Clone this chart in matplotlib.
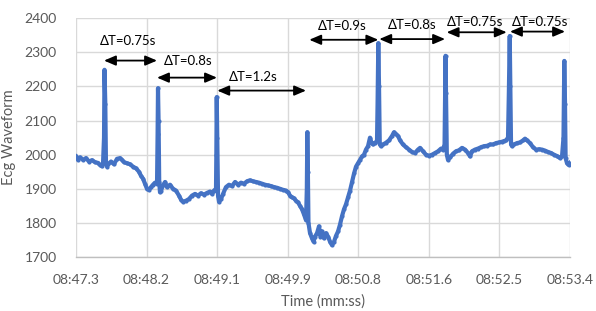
import matplotlib
matplotlib.use("Agg")
import matplotlib.pyplot as plt
import numpy as np

# time in seconds after 08:47.33, ECG value
time_s = [0.000, 0.024, 0.049, 0.086, 0.122, 0.159, 0.196, 0.233, 0.269, 0.294, 0.318, 0.331,
          0.343, 0.349, 0.359, 0.367, 0.380,
          0.392, 0.429, 0.465, 0.502, 0.539, 0.563, 0.588, 0.624, 0.661, 0.698, 0.735, 0.771,
          0.796, 0.820, 0.845, 0.869, 0.894, 0.918, 0.943, 0.967, 0.992,
          0.999, 1.004, 1.011, 1.019, 1.028,
          1.041, 1.065, 1.090, 1.114, 1.151, 1.188, 1.224, 1.261, 1.286, 1.310, 1.347, 1.383,
          1.420, 1.457, 1.494, 1.530, 1.567, 1.604, 1.641, 1.665, 1.690, 1.714,
          1.718, 1.723, 1.730, 1.739, 1.751, 1.775,
          1.800, 1.836, 1.873, 1.910, 1.947, 1.983, 2.020, 2.057, 2.094, 2.130, 2.167, 2.204,
          2.240, 2.277, 2.314, 2.351, 2.387, 2.424, 2.461, 2.498, 2.534, 2.571, 2.596, 2.620,
          2.645, 2.669, 2.693, 2.718, 2.742, 2.767, 2.791, 2.816,
          2.826, 2.832, 2.839, 2.846, 2.865,
          2.889, 2.908, 2.926, 2.951, 2.975, 2.993, 3.012, 3.036, 3.061, 3.085, 3.110, 3.134,
          3.159, 3.183, 3.208, 3.232, 3.257, 3.281, 3.306, 3.330, 3.355, 3.379, 3.404, 3.428,
          3.453, 3.477, 3.502, 3.526, 3.550, 3.575, 3.599, 3.618, 3.636, 3.661, 3.685,
          3.692, 3.701, 3.710, 3.719, 3.734,
          3.759, 3.795, 3.832, 3.869, 3.893, 3.918, 3.942, 3.967, 4.003, 4.040, 4.077, 4.114,
          4.150, 4.187, 4.212, 4.248, 4.285, 4.322, 4.359, 4.395, 4.432, 4.469, 4.493, 4.512,
          4.518, 4.524, 4.530, 4.540, 4.554,
          4.579, 4.616, 4.652, 4.689, 4.726, 4.763, 4.799, 4.824, 4.848, 4.885, 4.922, 4.958,
          4.995, 5.032, 5.069, 5.105, 5.142, 5.179, 5.216, 5.240, 5.264, 5.289,
          5.299, 5.310, 5.318, 5.326, 5.338,
          5.362, 5.399, 5.436, 5.473, 5.497, 5.522, 5.558, 5.595, 5.632, 5.668, 5.705, 5.742,
          5.779, 5.815, 5.852, 5.889, 5.926, 5.950, 5.968,
          5.972, 5.978, 5.987, 5.994, 6.011, 6.030, 6.048]

ecg = [1995, 1985, 1992, 1985, 1990, 1980, 1984, 1978, 1976, 1970, 1966, 1975,
       2050, 2249, 2150, 1975, 1965,
       1972, 1980, 1972, 1988, 1990, 1985, 1978, 1975, 1972, 1965, 1960, 1950,
       1938, 1930, 1915, 1900, 1897, 1905, 1912, 1918, 1915,
       2060, 2195, 2100, 1920, 1890,
       1895, 1910, 1920, 1905, 1912, 1900, 1895, 1880, 1868, 1862, 1865, 1870,
       1880, 1885, 1880, 1887, 1883, 1888, 1892, 1885, 1895, 1900,
       2000, 2169, 2050, 1880, 1862, 1870,
       1885, 1905, 1912, 1908, 1920, 1912, 1918, 1915, 1922, 1925, 1922, 1920,
       1918, 1915, 1912, 1910, 1908, 1905, 1903, 1900, 1897, 1895, 1890, 1880,
       1875, 1872, 1865, 1860, 1850, 1840, 1825, 1808,
       1900, 2066, 1950, 1800, 1770,
       1755, 1745, 1760, 1770, 1790, 1760, 1775, 1755, 1770, 1760, 1745, 1735,
       1745, 1762, 1775, 1795, 1820, 1840, 1855, 1875, 1895, 1920, 1945, 1965,
       1975, 1985, 1995, 2000, 2015, 2025, 2050, 2035, 2030, 2035, 2040,
       2150, 2327, 2200, 2030, 2025,
       2030, 2035, 2042, 2055, 2066, 2060, 2055, 2042, 2030, 2022, 2015, 2008,
       2005, 2015, 2020, 2010, 2000, 1997, 2000, 2005, 2010, 2018, 2015, 2030,
       2150, 2290, 2180, 2000, 1985,
       1992, 2003, 2010, 2013, 2020, 2015, 2005, 1995, 2010, 2015, 2018, 2022,
       2025, 2026, 2030, 2030, 2034, 2036, 2038, 2040, 2042, 2050,
       2180, 2348, 2200, 2030, 2025,
       2030, 2034, 2036, 2042, 2047, 2042, 2034, 2022, 2015, 2016, 2015, 2012,
       2008, 2005, 2000, 1996, 1990, 1995, 2050,
       2150, 2275, 2150, 1990, 1975, 1970, 1976]

tick_step = 0.864
tick_labels = ["08:47.3", "08:48.2", "08:49.1", "08:49.9", "08:50.8", "08:51.6", "08:52.5", "08:53.4"]

# annotations: label, arrow start, arrow end, arrow y, text x, text y
ann_labels = ["ΔT=0.75s", "ΔT=0.8s", "ΔT=1.2s", "ΔT=0.9s", "ΔT=0.8s", "ΔT=0.75s", "ΔT=0.75s"]
ann_x0 = [0.343, 0.992, 1.730, 2.856, 3.713, 4.538, 5.313]
ann_x1 = [0.992, 1.726, 2.816, 3.701, 4.518, 5.273, 5.987]
ann_y = [2276, 2226, 2188, 2337, 2339, 2359, 2361]
ann_tx = [0.637, 1.371, 2.167, 3.257, 4.114, 4.879, 5.675]
ann_ty = [2334, 2275, 2229, 2377, 2380, 2390, 2390]

plt.rcParams['font.family'] = ['Lato', 'DejaVu Sans']

fig = plt.figure(figsize=(5.96, 3.11), dpi=100)
ax = fig.add_axes([0.1275, 0.1736, 0.8289, 0.7676])

ax.plot(time_s, ecg, color='#4472C4', lw=3.0, marker='o', ms=3.0,
        markeredgewidth=0, solid_joinstyle='round', zorder=3)

ax.set_xlim(0, 7 * tick_step)
ax.set_ylim(1700, 2400)
ax.set_xticks(np.arange(len(tick_labels)) * tick_step)
ax.set_xticklabels(tick_labels)
ax.set_yticks(np.arange(1700, 2401, 100))

ax.grid(True, color='#d9d9d9', lw=1.0, zorder=0)
for s in ['top', 'right', 'left']:
    ax.spines[s].set_visible(False)
ax.spines['bottom'].set_color('#bfbfbf')
ax.spines['bottom'].set_linewidth(1.0)
ax.tick_params(axis='both', length=0, labelsize=10, labelcolor='#595959')
ax.tick_params(axis='x', pad=12)
ax.tick_params(axis='y', pad=14)
ax.set_axisbelow(True)

ax.set_xlabel("Time (mm:ss)", fontsize=10.5, color='#595959', labelpad=6)
ax.set_ylabel("Ecg Waveform", fontsize=10.5, color='#595959', labelpad=6)

for lab, x0, x1, y, tx, ty in zip(ann_labels, ann_x0, ann_x1, ann_y, ann_tx, ann_ty):
    ax.annotate("", xy=(x1, y), xytext=(x0, y),
                arrowprops=dict(arrowstyle='<|-|>,head_length=0.7,head_width=0.3',
                                color='black', lw=1.3, shrinkA=0, shrinkB=0), zorder=5)
    ax.text(tx, ty, lab, ha='center', va='center', fontsize=9.5, color='black', zorder=5)

fig.savefig("out.png", dpi=100)
